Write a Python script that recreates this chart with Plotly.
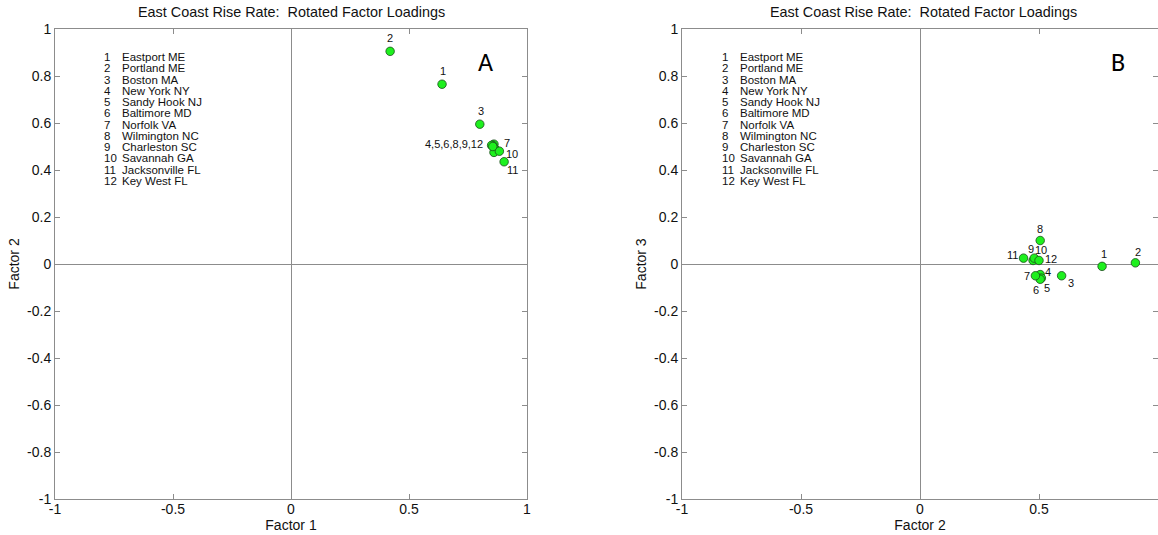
import plotly.graph_objects as go

stations = ["Eastport ME", "Portland ME", "Boston MA", "New York NY", "Sandy Hook NJ",
            "Baltimore MD", "Norfolk VA", "Wilmington NC", "Charleston SC",
            "Savannah GA", "Jacksonville FL", "Key West FL"]
station_ids = [str(i + 1) for i in range(len(stations))]

factor1 = [0.64, 0.42, 0.80, 0.855, 0.86, 0.855, 0.87, 0.85, 0.86, 0.883, 0.903, 0.855]
factor2 = [0.765, 0.905, 0.595, 0.505, 0.51, 0.505, 0.485, 0.505, 0.475, 0.48, 0.435, 0.50]
factor3 = [-0.01, 0.005, -0.05, -0.045, -0.06, -0.065, -0.05, 0.10, 0.015, 0.025, 0.025, 0.015]

tick_vals_x = [-1, -0.5, 0, 0.5, 1]
tick_text_x = ["-1", "-0.5", "0", "0.5", "1"]
tick_vals_y = [-1, -0.8, -0.6, -0.4, -0.2, 0, 0.2, 0.4, 0.6, 0.8, 1]
tick_text_y = ["-1", "-0.8", "-0.6", "-0.4", "-0.2", "0", "0.2", "0.4", "0.6", "0.8", "1"]

title_text = "East Coast Rise Rate:  Rotated Factor Loadings"

# point labels: (station index, text, xshift, yshift, xanchor)
labels_a = [(1, "2", 0, 13, "center"), (0, "1", 1, 13, "center"), (2, "3", 1, 13, "center"),
            (3, "4,5,6,8,9,12", -8, 1, "right"), (6, "7", 6, 7, "left"),
            (9, "10", 5, -3, "left"), (10, "11", 1, -8, "left")]
labels_b = [(7, "8", 0, 12, "center"), (10, "11", -11, 3, "center"), (8, "9", -2, 11, "center"),
            (9, "10", 7, 8, "center"), (11, "12", 12, 1, "center"), (0, "1", 2, 12, "center"),
            (1, "2", 3, 11, "center"), (6, "7", -8, 0, "center"), (3, "4", 8, 3, "center"),
            (2, "3", 9, -7, "center"), (5, "6", -4, -11, "center"), (4, "5", 6, -10, "center")]

FONT = "Liberation Sans, Arial, sans-serif"
GREY = "#8c8c8c"

fig = go.Figure()
marker = dict(size=8.5, color="#1ef01e", line=dict(color="#1a4d1a", width=0.8))
fig.add_trace(go.Scatter(x=factor1, y=factor2, mode="markers", marker=marker,
                         xaxis="x", yaxis="y", showlegend=False, hoverinfo="skip"))
fig.add_trace(go.Scatter(x=factor2, y=factor3, mode="markers", marker=marker,
                         xaxis="x2", yaxis="y2", showlegend=False, hoverinfo="skip"))

def axis_style(domain, anchor, title, standoff):
    return dict(domain=domain, anchor=anchor, range=[-1, 1], showgrid=False, automargin=False,
                zeroline=True, zerolinecolor=GREY, zerolinewidth=1,
                showline=True, linecolor=GREY, linewidth=1, mirror="ticks",
                ticks="inside", ticklen=5, tickcolor=GREY,
                tickfont=dict(family=FONT, size=14, color="#111"),
                title=dict(text=title, font=dict(family=FONT, size=14, color="#111"), standoff=standoff))

ydom = [36 / 535, 506 / 535]
xa = axis_style([55 / 1158, 527 / 1158], "y", "Factor 1", 0)
xa.update(tickvals=tick_vals_x, ticktext=tick_text_x, ticklabelstandoff=-3)
ya = axis_style(ydom, "x", "Factor 2", 4)
ya.update(tickvals=tick_vals_y, ticktext=tick_text_y)
xb = axis_style([682 / 1158, 1.0], "y2", "Factor 2", 0)
xb.update(tickvals=tick_vals_x, ticktext=tick_text_x, ticklabelstandoff=-3)
yb = axis_style(ydom, "x2", "Factor 3", 4)
yb.update(tickvals=tick_vals_y, ticktext=tick_text_y)

annotations = []
for cx in (291 / 1158, 924 / 1158):
    annotations.append(dict(text=title_text, xref="paper", yref="paper", x=cx, y=(535 - 12) / 535,
                            showarrow=False, xanchor="center", yanchor="middle",
                            font=dict(family=FONT, size=14.4, color="#111")))

for ax_id, xs, ys, labels in (("", factor1, factor2, labels_a), ("2", factor2, factor3, labels_b)):
    for idx, txt, dx, dy, anc in labels:
        annotations.append(dict(text=txt, x=xs[idx], y=ys[idx], xref="x" + ax_id, yref="y" + ax_id,
                                showarrow=False, xanchor=anc, yanchor="middle", xshift=dx, yshift=dy,
                                font=dict(family=FONT, size=11, color="#111")))

for ax_id, numx, namex, letter, lx in (("", 0.100, 0.137, "A", 0.913), ("2", 0.080, 0.117, "B", 0.916)):
    for i, (sid, name) in enumerate(zip(station_ids, stations)):
        yy = 0.940 - i * 0.0239
        annotations.append(dict(text=sid, x=numx, y=yy, xref="x" + ax_id + " domain",
                                yref="y" + ax_id + " domain", showarrow=False, xanchor="left",
                                yanchor="middle", font=dict(family=FONT, size=11.5, color="#111")))
        annotations.append(dict(text=name, x=namex, y=yy, xref="x" + ax_id + " domain",
                                yref="y" + ax_id + " domain", showarrow=False, xanchor="left",
                                yanchor="middle", font=dict(family=FONT, size=11.5, color="#111")))
    annotations.append(dict(text=letter, x=lx, y=0.930, xref="x" + ax_id + " domain",
                            yref="y" + ax_id + " domain", showarrow=False, xanchor="center",
                            yanchor="middle", font=dict(family="Carlito, Calibri, Liberation Sans, sans-serif", size=26, color="#000")))

fig.update_layout(width=1158, height=535, margin=dict(l=0, r=0, t=0, b=0),
                  paper_bgcolor="white", plot_bgcolor="white",
                  xaxis=xa, yaxis=ya, xaxis2=xb, yaxis2=yb, annotations=annotations)

fig.write_html("out.html")
